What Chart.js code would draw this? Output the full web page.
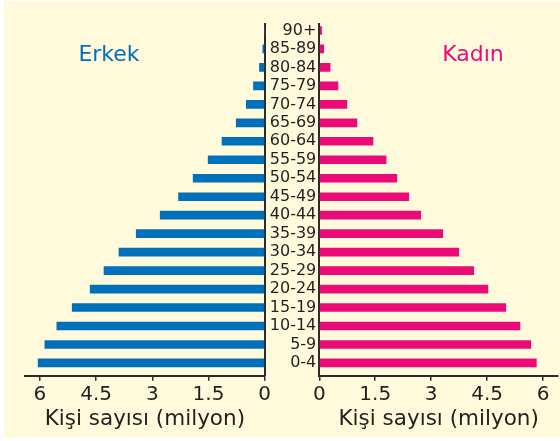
<!DOCTYPE html>
<html>
<head>
<meta charset="utf-8">
<script src="https://cdn.jsdelivr.net/npm/chart.js@4.4.1/dist/chart.umd.min.js"></script>
<style>
html,body{margin:0;padding:0;background:#ffffff;}
#wrap{position:relative;width:560px;height:441px;overflow:hidden;}
#bg{position:absolute;left:4px;top:1px;width:556px;height:437px;background:#FFFADB;}
canvas{position:absolute;left:0;top:0;}
.lbl{position:absolute;font-family:'DejaVu Sans',sans-serif;font-size:22px;line-height:22px;height:22px;white-space:nowrap;transform:translateX(-50%);}
</style>
</head>
<body>
<div id="wrap">
  <div id="bg"></div>
  <canvas id="maleChart" width="560" height="441"></canvas>
  <canvas id="femaleChart" width="560" height="441"></canvas>
  <div class="lbl" style="left:109px;top:43px;color:#0070BA">Erkek</div>
  <div class="lbl" style="left:473px;top:43px;color:#EA0A78">Kadın</div>
</div>
<script>
// Age groups, bottom (0-4) to top (90+)
const ageGroups = ['0-4','5-9','10-14','15-19','20-24','25-29','30-34','35-39','40-44','45-49','50-54','55-59','60-64','65-69','70-74','75-79','80-84','85-89','90+'];
// Population in millions (Erkek = male, Kadın = female)
const maleValues   = [6.05,5.87,5.55,5.14,4.66,4.29,3.89,3.43,2.79,2.30,1.91,1.51,1.14,0.76,0.49,0.30,0.14,0.05,0.00];
const femaleValues = [5.82,5.67,5.38,5.00,4.52,4.14,3.74,3.31,2.72,2.40,2.08,1.79,1.44,1.01,0.74,0.50,0.29,0.12,0.06];
const xTickValues = [0,1.5,3,4.5,6];
const axisTitle = 'Kişi sayısı (milyon)';

const textColor = '#231F20';
const axisColor = '#2E2A27';
Chart.defaults.font.family = "'DejaVu Sans', sans-serif";
Chart.defaults.color = textColor;

function makeChart(id, values, color, isLeft) {
  return new Chart(document.getElementById(id), {
    type: 'bar',
    data: {
      datasets: [{
        data: values.map((v, i) => ({x: v, y: i})),
        backgroundColor: color,
        borderWidth: 0,
        barThickness: 8
      }]
    },
    options: {
      indexAxis: 'y',
      responsive: false,
      animation: false,
      layout: {padding: isLeft ? {left: 25, right: 295.3, top: 24, bottom: 0}
                                : {left: 259.3, right: 2, top: 24, bottom: 0}},
      plugins: {legend: {display: false}, tooltip: {enabled: false}},
      scales: {
        x: {
          type: 'linear', position: 'bottom', reverse: isLeft, min: 0, max: 6.4, offset: false,
          afterBuildTicks: s => { s.ticks = xTickValues.map(v => ({value: v})); },
          afterFit: s => { s.height = 65.3; },
          grid: {display: true, drawOnChartArea: false, drawTicks: true, tickLength: 5, color: axisColor, lineWidth: 1.5},
          border: {display: true, color: axisColor, width: 2},
          ticks: {padding: 2, color: textColor, font: {size: 20}, maxRotation: 0, autoSkip: false,
                  callback: v => String(v)},
          title: {display: true, text: axisTitle, align: 'center', color: textColor,
                  font: {size: 21.5}, padding: {top: 0, bottom: 8.5}}
        },
        y: {
          type: 'linear', position: isLeft ? 'right' : 'left', min: -0.69, max: 18.35, offset: false,
          afterBuildTicks: s => { s.ticks = ageGroups.map((_, i) => ({value: i})); },
          afterFit: s => { s.width = isLeft ? 0 : 60; },
          grid: {display: false, offset: false, drawTicks: false, tickLength: 0},
          border: {display: true, color: axisColor, width: 2},
          ticks: {display: !isLeft, padding: 3, color: textColor, font: {size: 16}, autoSkip: false,
                  callback: v => ageGroups[v]}
        }
      }
    }
  });
}

makeChart('maleChart', maleValues, '#0070BA', true);
makeChart('femaleChart', femaleValues, '#EA0A78', false);
</script>
</body>
</html>
